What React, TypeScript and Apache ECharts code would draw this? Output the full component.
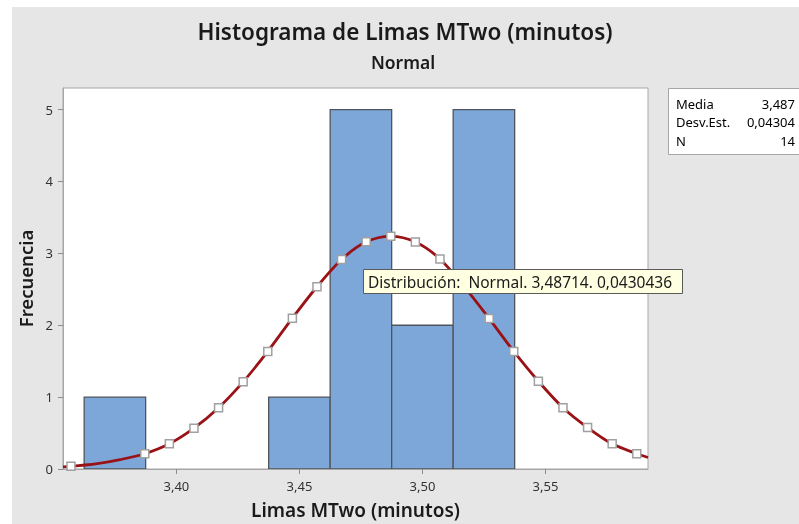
import React, { useEffect, useRef } from "react";
import * as echarts from "echarts";

// Histogram bins (Limas MTwo, minutos)
const binStarts = [3.3625, 3.3875, 3.4125, 3.4375, 3.4625, 3.4875, 3.5125];
const binEnds = [3.3875, 3.4125, 3.4375, 3.4625, 3.4875, 3.5125, 3.5375];
const counts = [1, 0, 0, 1, 5, 2, 5];

// Fitted normal curve
const curveX = [3.3539, 3.35714, 3.36714, 3.37714, 3.38714, 3.39714, 3.40714, 3.41714, 3.42714, 3.43714, 3.44714, 3.45714, 3.46714, 3.47714, 3.48714, 3.49714, 3.50714, 3.51714, 3.52714, 3.53714, 3.54714, 3.55714, 3.56714, 3.57714, 3.58714, 3.5917];
const curveY = [0.03, 0.037, 0.07, 0.13, 0.212, 0.35, 0.567, 0.853, 1.213, 1.636, 2.098, 2.535, 2.914, 3.16, 3.236, 3.158, 2.922, 2.53, 2.093, 1.636, 1.221, 0.853, 0.577, 0.35, 0.212, 0.16];
const curveMarked = [false, true, false, false, true, true, true, true, true, true, true, true, true, true, true, true, true, true, true, true, true, true, true, true, true, false];

const xTicks = [3.4, 3.45, 3.5, 3.55];
const yTicks = [0, 1, 2, 3, 4, 5];

const statLabels = ["Media", "Desv.Est.", "N"];
const statValues = ["3,487", "0,04304", "14"];

const titleText = "Histograma de Limas MTwo (minutos)";
const subtitleText = "Normal";
const tooltipText = "Distribución:  Normal. 3,48714. 0,0430436";

const FONT = "'Noto Sans', 'Open Sans', sans-serif";

export default function App() {
  const ref = useRef<HTMLDivElement>(null);
  useEffect(() => {
    if (!ref.current) return;
    const chart = echarts.init(ref.current, null, { renderer: "svg" });
    const fmt = (v: number) => v.toFixed(2).replace(".", ",");
    const option: any = {
      animation: false,
      textStyle: { fontFamily: FONT },
      title: [
        {
          text: titleText,
          left: 400,
          top: 15,
          textAlign: "center",
          textStyle: { fontFamily: FONT, fontSize: 22.5, fontWeight: 600, color: "#1a1a1a" },
        },
        {
          text: subtitleText,
          left: 398,
          top: 48,
          textAlign: "center",
          textStyle: { fontFamily: FONT, fontSize: 17.5, fontWeight: 600, color: "#1a1a1a" },
        },
      ],
      grid: {
        left: 63,
        top: 88,
        right: 151,
        bottom: 53,
        show: true,
        backgroundColor: "#ffffff",
        borderColor: "#a6a6a6",
        borderWidth: 1,
      },
      xAxis: {
        type: "value",
        min: 3.3539,
        max: 3.5917,
        name: "Limas MTwo (minutos)",
        nameLocation: "middle",
        nameGap: 31,
        nameTextStyle: { fontFamily: FONT, fontSize: 19, fontWeight: 600, color: "#1a1a1a" },
        axisLine: { show: true, lineStyle: { color: "#a6a6a6", width: 1 } },
        axisTick: { show: true, length: 5, customValues: xTicks, lineStyle: { color: "#8c8c8c" } },
        axisLabel: { customValues: xTicks, formatter: fmt, fontSize: 13, color: "#333", margin: 10, fontFamily: FONT },
        splitLine: { show: false },
      },
      yAxis: {
        type: "value",
        min: 0,
        max: 5.3,
        name: "Frecuencia",
        nameLocation: "middle",
        nameGap: 28,
        nameRotate: 90,
        nameTextStyle: { fontFamily: FONT, fontSize: 18.5, fontWeight: 600, color: "#1a1a1a" },
        axisLine: { show: true, lineStyle: { color: "#a6a6a6", width: 1 } },
        axisTick: { show: true, length: 5, customValues: yTicks, lineStyle: { color: "#8c8c8c" } },
        axisLabel: { customValues: yTicks, fontSize: 13, color: "#333", margin: 10, fontFamily: FONT },
        splitLine: { show: false },
      },
      series: [
        {
          type: "custom",
          name: "Frecuencia",
          clip: true,
          z: 2,
          data: binStarts.map((s, i) => [s, binEnds[i], counts[i]]),
          renderItem: (params: any, api: any) => {
            const c = api.value(2);
            if (!c) return null;
            const p0 = api.coord([api.value(0), c]);
            const p1 = api.coord([api.value(1), 0]);
            return {
              type: "rect",
              shape: { x: p0[0], y: p0[1], width: p1[0] - p0[0], height: p1[1] - p0[1] },
              style: { fill: "#7da7d9", stroke: "#50555b", lineWidth: 1.3 },
            };
          },
        },
        {
          type: "line",
          name: "Normal",
          z: 3,
          smooth: 0.3,
          clip: true,
          symbol: "rect",
          symbolSize: 8,
          showAllSymbol: true,
          lineStyle: { color: "#9a1216", width: 2.8 },
          itemStyle: { color: "#ffffff", borderColor: "#a0a0a0", borderWidth: 1.5 },
          data: curveX.map((x, i) => ({
            value: [x, curveY[i]],
            symbol: curveMarked[i] ? "rect" : "none",
          })),
        },
      ],
      graphic: [
        {
          type: "rect",
          z: -10,
          silent: true,
          shape: { x: 0, y: 0, width: 799, height: 524 },
          style: { fill: "#ffffff" },
        },
        {
          type: "rect",
          z: -9,
          silent: true,
          shape: { x: 12, y: 7, width: 787, height: 517 },
          style: { fill: "#e6e6e6" },
        },
        {
          type: "rect",
          z: 10,
          shape: { x: 668.5, y: 88.5, width: 140, height: 66 },
          style: { fill: "#ffffff", stroke: "#a6a6a6", lineWidth: 1 },
        },
        ...statLabels.map((t, i) => ({
          type: "text",
          z: 11,
          x: 676,
          y: 103.5 + i * 18.7,
          style: { text: t, fontFamily: FONT, fontSize: 13, fill: "#000", verticalAlign: "middle", textAlign: "left" },
        })),
        ...statValues.map((t, i) => ({
          type: "text",
          z: 11,
          x: 795,
          y: 103.5 + i * 18.7,
          style: { text: t, fontFamily: FONT, fontSize: 13, fill: "#000", verticalAlign: "middle", textAlign: "right" },
        })),
        {
          type: "rect",
          z: 20,
          shape: { x: 363.5, y: 269.5, width: 319, height: 24 },
          style: { fill: "#ffffe1", stroke: "#5a5a5a", lineWidth: 1 },
        },
        {
          type: "text",
          z: 21,
          x: 368,
          y: 282,
          style: { text: tooltipText, fontFamily: FONT, fontSize: 15.5, fill: "#1a1a1a", verticalAlign: "middle", textAlign: "left" },
        },
      ],
    };
    chart.setOption(option);
    return () => chart.dispose();
  }, []);
  return (
    <div
      ref={ref}
      style={{ position: "fixed", left: 0, top: 0, width: 799, height: 524 }}
    />
  );
}
